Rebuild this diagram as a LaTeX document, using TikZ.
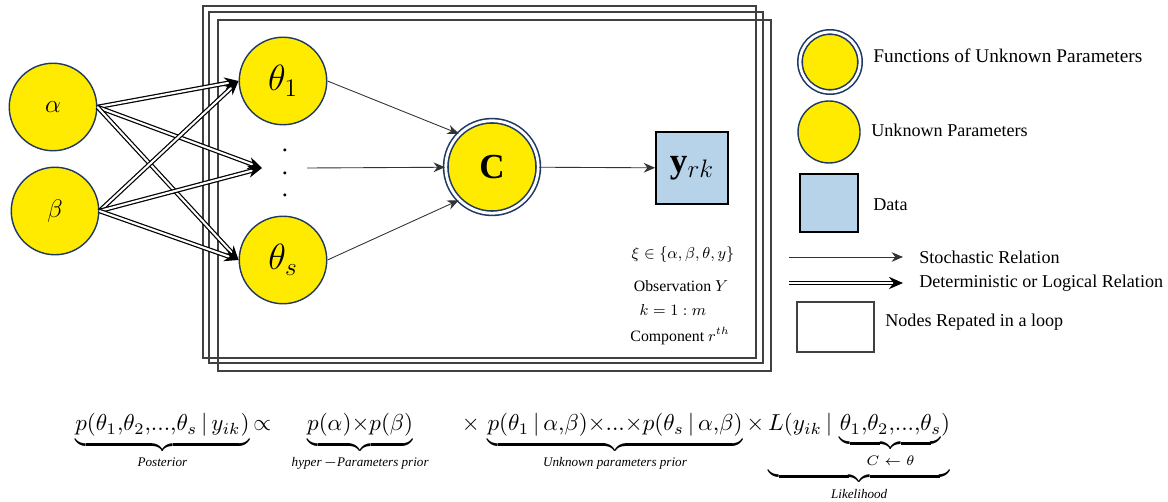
\documentclass[tikz,border=0pt]{standalone}
\usepackage{fontspec}
\setmainfont{Liberation Serif}
\usepackage{amsmath}
\usepackage{graphicx}
\usetikzlibrary{positioning, arrows.meta}

\definecolor{paramyellow}{RGB}{255,235,0}
\definecolor{paramedge}{RGB}{31,56,100}
\definecolor{datablue}{RGB}{183,211,234}

\newcommand{\bracelabel}[1]{\text{\fontsize{5.7}{6}\selectfont\itshape #1}}

\begin{document}
\begin{tikzpicture}[
    x=0.02cm, y=-0.02cm,
    node distance=0.3cm,
    param/.style={circle, draw=paramedge, line width=0.8pt, fill=paramyellow, minimum size=1.75cm, inner sep=0pt},
    func/.style={circle, draw=paramedge, line width=0.9pt, double=white, double distance=1.6pt, fill=paramyellow, minimum size=1.85cm, inner sep=0pt},
    datum/.style={rectangle, draw, line width=1pt, fill=datablue, minimum size=1.44cm, inner sep=0pt},
    loopbox/.style={draw=black!75, line width=0.6pt},
    stoch/.style={-{Stealth[length=6.5pt, width=5.5pt]}, draw=black!80, line width=0.5pt},
    determ/.style={-{Stealth[length=8pt, width=7pt]}, line width=0.7pt, double=white, double distance=1.2pt},
    legtext/.style={font=\fontsize{10.3}{12}\selectfont, anchor=west, inner sep=0pt},
    boxtext/.style={font=\fontsize{9}{11}\selectfont, inner sep=0pt}
]
    \useasboundingbox (0,0) rectangle (1168,502);

    % Loop frames
    \draw[loopbox] (203,6) rectangle (756,358);
    \draw[loopbox] (209,12) rectangle (763,363);
    \draw[loopbox] (218,20) rectangle (771,371);

    % Nodes
    \node[param, font=\fontsize{15}{17}\selectfont] (alpha) at (53,107) {$\alpha$};
    \node[param, font=\fontsize{15}{17}\selectfont] (beta) at (55,211) {$\beta$};
    \node[param, font=\fontsize{22}{24}\selectfont] (theta1) at (283,81) {$\theta_1$};
    \node[param, font=\fontsize{22}{24}\selectfont] (thetas) at (283,260) {$\theta_s$};
    \node[font=\fontsize{14}{13}\selectfont, align=center, inner sep=0pt] (dots) at (285,173) {.\\.\\.};
    \coordinate (dotsin) at (262,168);
    \coordinate (dotsout) at (307,168);
    \node[func, font=\fontsize{20}{22}\selectfont\bfseries] (C) at (492,167) {C};
    \node[datum, font=\fontsize{20}{22}\selectfont] (y) at (692,168) {$\mathbf{y}_{rk}$};

    % Notes inside the frame
    \node[boxtext] (xi) at (683,255) {$\xi\in\{\alpha,\beta,\theta,y\}$};
    \node[boxtext] (obs) at (681,286) {Observation $Y$};
    \node[boxtext] (kidx) at (673,310) {$k=1:m$};
    \node[boxtext] (comp) at (680,336) {Component $r^{th}$};

    % Deterministic edges
    \foreach \s in {alpha, beta}
        \foreach \e in {theta1.west, dotsin, thetas.west}
            \draw[determ] (\s.east) -- (\e);

    % Stochastic edges
    \draw[stoch] (theta1.east) -- (C.135);
    \draw[stoch] (dotsout) -- (C);
    \draw[stoch] (thetas.east) -- (C.225);
    \draw[stoch] (C) -- (y);

    % Legend
    \node[func, minimum size=1.2cm] (legfunc) at (830,62) {};
    \node[param, minimum size=1.24cm] (legparam) at (829,132) {};
    \node[datum, minimum size=1.16cm] (legdata) at (829,203) {};
    \coordinate (stochA) at (789,257);
    \coordinate (stochB) at (903,257);
    \coordinate (detA) at (789,283);
    \coordinate (detB) at (903,283);
    \node[loopbox, minimum width=1.54cm, minimum height=1cm] (legloop) at (835.5,327) {};
    \draw[stoch] (stochA) -- (stochB);
    \draw[determ] (detA) -- (detB);

    \node[legtext, font=\fontsize{11}{13}\selectfont] (tfunc) at (873,56) {Functions of Unknown Parameters};
    \node[legtext] (tparam) at (871,130) {Unknown Parameters};
    \node[legtext] (tdata) at (873,205) {Data};
    \node[legtext, right=0.32cm of stochB] (tstoch) {Stochastic Relation};
    \node[legtext, right=0.32cm of detB] (tdet) {Deterministic or Logical Relation};
    \node[legtext] (tloop) at (885,322) {Nodes Repated in a loop};

    % Posterior formula
    \node[anchor=north west, inner sep=0pt] (eq) at (75,413) {\resizebox{17.5cm}{!}{$\displaystyle
        \underbrace{p(\theta_1{,}\theta_2{,}...{,}\theta_s\,|\,y_{ik})}_{\bracelabel{Posterior}}
        {\propto}\;\;\,
        \underbrace{p(\alpha){\times}p(\beta)}_{\bracelabel{hyper\,$-$Parameters prior}}
        \quad\;{\times}\,
        \underbrace{p(\theta_1\,|\,\alpha{,}\beta){\times}...{\times}p(\theta_s\,|\,\alpha{,}\beta)}_{\bracelabel{Unknown parameters prior}}
        {\times}
        \underbrace{L(y_{ik}\,|\,\underbrace{\theta_1{,}\theta_2{,}...{,}\theta_s}_{\bracelabel{\upshape$C\leftarrow\theta$}})}_{\bracelabel{Likelihood}}
    $}};
\end{tikzpicture}
\end{document}
